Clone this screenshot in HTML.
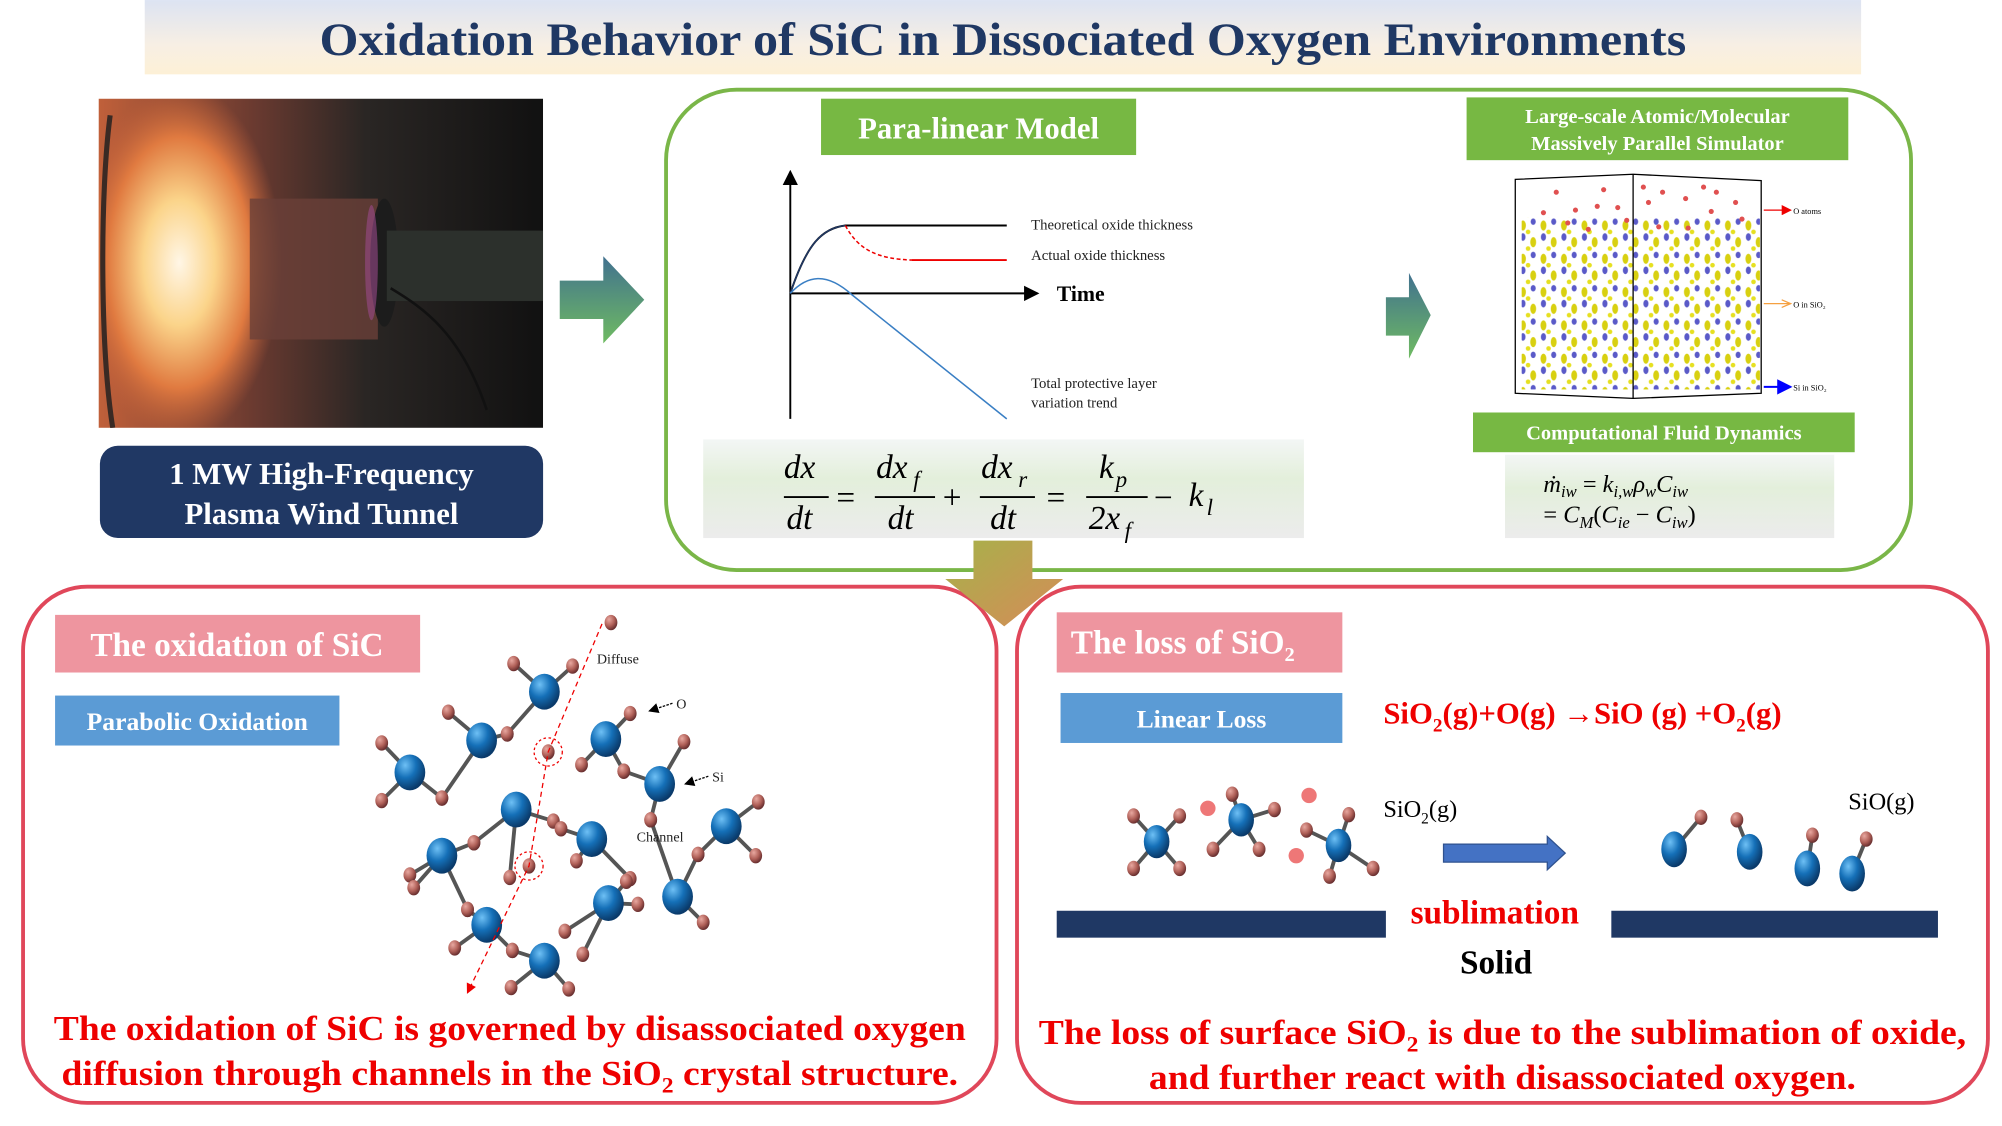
<!DOCTYPE html>
<html><head><meta charset="utf-8"><style>
html,body{margin:0;padding:0;background:#fff}
svg{display:block}
</style></head><body>
<svg id="s" width="2002" height="1126" viewBox="0 0 1563 879" xmlns="http://www.w3.org/2000/svg" font-family="'Liberation Serif',serif">
<defs>
<clipPath id="pc"><rect x="77" y="77" width="347" height="257"/></clipPath>
<linearGradient id="tg" x1="0" y1="0" x2="0" y2="1"><stop offset="0" stop-color="#dce3f2"/><stop offset="0.6" stop-color="#f7efe4"/><stop offset="1" stop-color="#fdf0d6"/></linearGradient>
<linearGradient id="ag" x1="0" y1="0" x2="0" y2="1"><stop offset="0" stop-color="#41718f"/><stop offset="1" stop-color="#6fbb62"/></linearGradient>
<linearGradient id="dg" x1="0" y1="0" x2="1" y2="1"><stop offset="0" stop-color="#a6b24a"/><stop offset="1" stop-color="#d68b58"/></linearGradient>
<linearGradient id="eg" x1="0" y1="0" x2="0" y2="1"><stop offset="0" stop-color="#f3f6f5"/><stop offset="0.4" stop-color="#e3efdb"/><stop offset="1" stop-color="#ececec"/></linearGradient>
<linearGradient id="pbg" x1="0" y1="0" x2="1" y2="0"><stop offset="0" stop-color="#c0603a"/><stop offset="0.35" stop-color="#6a3a30"/><stop offset="0.6" stop-color="#2a2624"/><stop offset="1" stop-color="#111"/></linearGradient>
<radialGradient id="pg" cx="0.5" cy="0.5" r="0.5"><stop offset="0" stop-color="#fff6e6"/><stop offset="0.35" stop-color="#fbd48a"/><stop offset="0.7" stop-color="#e07a40"/><stop offset="1" stop-color="#c0603a" stop-opacity="0"/></radialGradient>
<radialGradient id="bs" cx="0.35" cy="0.3" r="0.7"><stop offset="0" stop-color="#6ec0f5"/><stop offset="0.5" stop-color="#1570b8"/><stop offset="1" stop-color="#0a3a6a"/></radialGradient>
<radialGradient id="rs" cx="0.35" cy="0.3" r="0.7"><stop offset="0" stop-color="#e8a8a0"/><stop offset="0.6" stop-color="#b06058"/><stop offset="1" stop-color="#6a3030"/></radialGradient>
<pattern id="cr" x="1185" y="170" width="16" height="26" patternUnits="userSpaceOnUse">
<ellipse cx="4" cy="6" rx="2.3" ry="4" fill="#d8d010"/><ellipse cx="4" cy="15" rx="2" ry="3" fill="#5a5ac8"/><ellipse cx="12" cy="19" rx="2.3" ry="4" fill="#d8d010"/><ellipse cx="12" cy="3" rx="2" ry="2.5" fill="#5a5ac8"/><circle cx="8" cy="11" r="1.8" fill="#e6e020"/><circle cx="8" cy="24" r="1.8" fill="#e6e020"/>
</pattern>
<marker id="ah" markerWidth="8" markerHeight="8" refX="7" refY="4" orient="auto"><path d="M0,0 L8,4 L0,8z" fill="#000"/></marker>
<marker id="ahr" markerWidth="8" markerHeight="8" refX="7" refY="4" orient="auto"><path d="M0,0 L8,4 L0,8z" fill="#e00"/></marker>
<marker id="aho" markerWidth="8" markerHeight="8" refX="7" refY="4" orient="auto"><path d="M0,1 L7,4 L0,7" fill="none" stroke="#f5a040"/></marker>
<marker id="ahb" markerWidth="8" markerHeight="8" refX="7" refY="4" orient="auto"><path d="M0,0 L8,4 L0,8z" fill="#00f"/></marker>
</defs>

<rect x="113" y="0" width="1340" height="58" fill="url(#tg)"/>
<text x="783" y="43" text-anchor="middle" font-size="36" font-weight="bold" fill="#1f3864" textLength="1067" lengthAdjust="spacingAndGlyphs">Oxidation Behavior of SiC in Dissociated Oxygen Environments</text>

<g clip-path="url(#pc)">
<rect x="77" y="77" width="347" height="257" fill="url(#pbg)"/>
<ellipse cx="140" cy="205" rx="80" ry="140" fill="url(#pg)"/>
<path d="M86,90 C78,150 78,270 88,334" stroke="#3a2a24" stroke-width="4" fill="none"/>
<rect x="195" y="155" width="100" height="110" fill="#6a4038" opacity="0.8"/>
<ellipse cx="300" cy="205" rx="11" ry="50" fill="#1c1c1c"/>
<ellipse cx="290" cy="205" rx="5" ry="45" fill="#9a4a8a" opacity="0.6"/>
<rect x="302" y="180" width="122" height="55" fill="#2c302c"/>
<path d="M305,225 C330,240 360,260 380,320" stroke="#111" stroke-width="2" fill="none"/>
</g>

<rect x="78" y="348" width="346" height="72" rx="14" fill="#203864"/>
<text x="251" y="378" text-anchor="middle" font-size="24" font-weight="bold" fill="#fff">1 MW High-Frequency</text>
<text x="251" y="409" text-anchor="middle" font-size="24" font-weight="bold" fill="#fff">Plasma Wind Tunnel</text>

<path d="M437,219 L471,219 L471,200 L503,234 L471,268 L471,249 L437,249z" fill="url(#ag)"/>
<path d="M1082,232 L1100,232 L1100,213 L1117,246 L1100,280 L1100,262 L1082,262z" fill="url(#ag)"/>

<rect x="520" y="70" width="972" height="375" rx="55" fill="none" stroke="#7ab648" stroke-width="3"/>
<rect x="641" y="77" width="246" height="44" fill="#77b843"/>
<text x="764" y="108" text-anchor="middle" font-size="24" font-weight="bold" fill="#fff">Para-linear Model</text>

<line x1="617" y1="327" x2="617" y2="134" stroke="#000" stroke-width="1.5" marker-end="url(#ah)"/>
<line x1="617" y1="229" x2="810" y2="229" stroke="#000" stroke-width="1.5" marker-end="url(#ah)"/>
<path d="M617,229 C630,190 642,178 660,176 L786,176" stroke="#000" stroke-width="1.5" fill="none"/>
<path d="M617,229 C630,190 642,178 660,176" stroke="#203864" stroke-width="1.2" fill="none"/>
<path d="M660,176 C670,195 685,202 712,203" stroke="#e00" stroke-width="1.2" stroke-dasharray="3,2" fill="none"/>
<line x1="712" y1="203" x2="786" y2="203" stroke="#e00" stroke-width="1.5"/>
<path d="M617,229 C630,215 645,212 665,230 L786,327" stroke="#3a7fc4" stroke-width="1.2" fill="none"/>
<text x="805" y="179" font-size="11.5" fill="#222">Theoretical oxide thickness</text>
<text x="805" y="203" font-size="11.5" fill="#222">Actual oxide thickness</text>
<text x="825" y="235" font-size="17" font-weight="bold" fill="#000">Time</text>
<text x="805" y="303" font-size="11.5" fill="#222">Total protective layer</text>
<text x="805" y="318" font-size="11.5" fill="#222">variation trend</text>

<rect x="549" y="343" width="469" height="77" fill="url(#eg)"/>
<g font-size="26" font-style="italic" fill="#000">
<text x="612" y="373">dx</text><line x1="612" y1="388" x2="647" y2="388" stroke="#000" stroke-width="1.5"/><text x="614" y="413">dt</text>
<text x="653" y="397" font-style="normal">=</text>
<text x="684" y="373">dx</text><text x="713" y="380" font-size="18">f</text><line x1="683" y1="388" x2="730" y2="388" stroke="#000" stroke-width="1.5"/><text x="693" y="413">dt</text>
<text x="736" y="397" font-style="normal">+</text>
<text x="766" y="373">dx</text><text x="795" y="380" font-size="18">r</text><line x1="765" y1="388" x2="808" y2="388" stroke="#000" stroke-width="1.5"/><text x="773" y="413">dt</text>
<text x="817" y="397" font-style="normal">=</text>
<text x="858" y="373">k</text><text x="871" y="380" font-size="18">p</text><line x1="848" y1="388" x2="896" y2="388" stroke="#000" stroke-width="1.5"/><text x="850" y="413" >2x</text><text x="878" y="420" font-size="18">f</text>
<text x="901" y="397" font-style="normal">−</text>
<text x="928" y="395">k</text><text x="942" y="402" font-size="18">l</text>
</g>

<rect x="1145" y="76" width="298" height="49" fill="#77b843"/>
<text x="1294" y="96" text-anchor="middle" font-size="16" font-weight="bold" fill="#fff">Large-scale Atomic/Molecular</text>
<text x="1294" y="117" text-anchor="middle" font-size="16" font-weight="bold" fill="#fff">Massively Parallel Simulator</text>
<rect x="1188" y="170" width="186" height="134" fill="url(#cr)"/>
<path d="M1183,140 L1275,136 L1375,141 L1375,307 L1275,311 L1183,307z M1275,136 L1275,311" fill="none" stroke="#000" stroke-width="1"/>
<g fill="#e05050">
<circle cx="1215" cy="150" r="2"/><circle cx="1252" cy="148" r="2"/><circle cx="1230" cy="164" r="2"/><circle cx="1247" cy="161" r="2"/><circle cx="1263" cy="162" r="2"/><circle cx="1287" cy="158" r="2"/><circle cx="1298" cy="150" r="2"/><circle cx="1316" cy="155" r="2"/><circle cx="1340" cy="150" r="2"/><circle cx="1355" cy="158" r="2"/><circle cx="1224" cy="174" r="2"/><circle cx="1240" cy="179" r="2"/><circle cx="1270" cy="172" r="2"/><circle cx="1295" cy="177" r="2"/><circle cx="1318" cy="178" r="2"/><circle cx="1336" cy="165" r="2"/><circle cx="1360" cy="171" r="2"/><circle cx="1205" cy="166" r="2"/><circle cx="1283" cy="146" r="2"/><circle cx="1330" cy="146" r="2"/>
</g>
<line x1="1377" y1="164" x2="1398" y2="164" stroke="#e00" stroke-width="1" marker-end="url(#ahr)"/>
<text x="1400" y="167" font-size="6.5" fill="#000">O  atoms</text>
<line x1="1377" y1="237" x2="1398" y2="237" stroke="#f5a040" stroke-width="1" marker-end="url(#aho)"/>
<text x="1400" y="240" font-size="6.5" fill="#000">O in SiO₂</text>
<line x1="1377" y1="302" x2="1398" y2="302" stroke="#00f" stroke-width="1.5" marker-end="url(#ahb)"/>
<text x="1400" y="305" font-size="6.5" fill="#000">Si in SiO₂</text>

<rect x="1150" y="322" width="298" height="31" fill="#77b843"/>
<text x="1299" y="343" text-anchor="middle" font-size="16" font-weight="bold" fill="#fff">Computational Fluid Dynamics</text>
<rect x="1175" y="355" width="257" height="65" fill="url(#eg)"/>
<g font-size="19" font-style="italic" fill="#000">
<text x="1205" y="384">ṁ<tspan font-size="13" dy="4">iw</tspan><tspan font-style="normal" dy="-4"> = </tspan>k<tspan font-size="13" dy="4">i,w</tspan><tspan dy="-4">ρ</tspan><tspan font-size="13" dy="4">w</tspan><tspan dy="-4">C</tspan><tspan font-size="13" dy="4">iw</tspan></text>
<text x="1205" y="408"><tspan font-style="normal">= </tspan>C<tspan font-size="13" dy="4">M</tspan><tspan dy="-4" font-style="normal">(</tspan>C<tspan font-size="13" dy="4">ie</tspan><tspan dy="-4" font-style="normal"> − </tspan>C<tspan font-size="13" dy="4">iw</tspan><tspan dy="-4" font-style="normal">)</tspan></text>
</g>

<rect x="18" y="458" width="760" height="403" rx="50" fill="none" stroke="#e0475a" stroke-width="3"/>
<rect x="794" y="458" width="758" height="403" rx="50" fill="none" stroke="#e0475a" stroke-width="3"/>
<path d="M760,422 L806,422 L806,452 L830,452 L784,489 L738,452 L760,452z" fill="url(#dg)"/>

<rect x="43" y="480" width="285" height="45" fill="#ee959f"/>
<text x="185" y="512" text-anchor="middle" font-size="26" font-weight="bold" fill="#fff">The oxidation of SiC</text>
<rect x="43" y="543" width="222" height="39" fill="#5b9bd5"/>
<text x="154" y="570" text-anchor="middle" font-size="20" font-weight="bold" fill="#fff">Parabolic Oxidation</text>

<g id="mol"></g>
<text x="466" y="518" font-size="11" fill="#222">Diffuse</text>
<text x="528" y="553" font-size="11" fill="#222">O</text>
<text x="556" y="610" font-size="11" fill="#222">Si</text>
<text x="497" y="657" font-size="11" fill="#222">Channel</text>
<line x1="525" y1="549" x2="507" y2="555" stroke="#000" marker-end="url(#ah)" stroke-dasharray="2,1"/>
<line x1="553" y1="606" x2="535" y2="612" stroke="#000" marker-end="url(#ah)" stroke-dasharray="2,1"/>
<path d="M470,487 L428,587 L413,676 L365,775" stroke="#e00" stroke-width="1" stroke-dasharray="4,3" fill="none" marker-end="url(#ahr)"/>
<circle cx="428" cy="587" r="11" fill="none" stroke="#e00" stroke-dasharray="2,2"/>
<circle cx="413" cy="676" r="11" fill="none" stroke="#e00" stroke-dasharray="2,2"/>

<text x="398" y="812" text-anchor="middle" font-size="27" font-weight="bold" fill="#e00" textLength="712" lengthAdjust="spacingAndGlyphs">The oxidation of SiC is governed by disassociated oxygen</text>
<text x="398" y="847" text-anchor="middle" font-size="27" font-weight="bold" fill="#e00" textLength="700" lengthAdjust="spacingAndGlyphs">diffusion through channels in the SiO<tspan font-size="17" dy="6">2</tspan><tspan dy="-6"> crystal structure.</tspan></text>

<rect x="825" y="478" width="223" height="47" fill="#ee959f"/>
<text x="836" y="510" font-size="26" font-weight="bold" fill="#fff">The loss of SiO<tspan font-size="16" dy="6">2</tspan></text>
<rect x="828" y="541" width="220" height="39" fill="#5b9bd5"/>
<text x="938" y="568" text-anchor="middle" font-size="20" font-weight="bold" fill="#fff">Linear Loss</text>
<text x="1080" y="565" font-size="24" font-weight="bold" fill="#e00">SiO<tspan font-size="15" dy="6">2</tspan><tspan dy="-6">(g)+O(g) →SiO (g) +O</tspan><tspan font-size="15" dy="6">2</tspan><tspan dy="-6">(g)</tspan></text>

<text x="1080" y="638" font-size="19" fill="#000">SiO<tspan font-size="12" dy="5">2</tspan><tspan dy="-5">(g)</tspan></text>
<text x="1443" y="632" font-size="19" fill="#000">SiO(g)</text>
<path d="M1127,659 L1208,659 L1208,653 L1222,666 L1208,679 L1208,673 L1127,673z" fill="#4472c4" stroke="#2f528f"/>
<rect x="825" y="711" width="257" height="21" fill="#1f3864"/>
<rect x="1258" y="711" width="255" height="21" fill="#1f3864"/>
<text x="1167" y="721" text-anchor="middle" font-size="26" font-weight="bold" fill="#e00">sublimation</text>
<text x="1168" y="760" text-anchor="middle" font-size="26" font-weight="bold" fill="#000">Solid</text>

<text x="1173" y="815" text-anchor="middle" font-size="27" font-weight="bold" fill="#e00" textLength="724" lengthAdjust="spacingAndGlyphs">The loss of surface SiO<tspan font-size="17" dy="6">2</tspan><tspan dy="-6"> is due to the sublimation of oxide,</tspan></text>
<text x="1173" y="850" text-anchor="middle" font-size="27" font-weight="bold" fill="#e00" textLength="552" lengthAdjust="spacingAndGlyphs">and further react with disassociated oxygen.</text>
</svg>
<script>
var g=document.getElementById('mol'),NS='http://www.w3.org/2000/svg';
function el(t,a){var e=document.createElementNS(NS,t);for(var k in a)e.setAttribute(k,a[k]);g.appendChild(e);}
function mol(b,rs){rs.forEach(function(r){el('line',{x1:b[0],y1:b[1],x2:r[0],y2:r[1],stroke:'#555','stroke-width':3});});
rs.forEach(function(r){el('ellipse',{cx:r[0],cy:r[1],rx:5,ry:6,fill:'url(#rs)'});});
el('ellipse',{cx:b[0],cy:b[1],rx:b[2]||12,ry:b[3]||14,fill:'url(#bs)'});}
mol([425,540],[[401,518],[447,520],[396,573]]);
mol([376,578],[[350,556],[345,623],[396,573]]);
mol([473,577],[[492,557],[454,597],[487,602]]);
mol([320,603],[[298,580],[298,625],[345,623]]);
mol([515,612],[[534,579],[487,602],[508,640]]);
mol([403,632],[[432,641],[370,658],[398,685]]);
mol([462,655],[[438,647],[450,672],[492,686]]);
mol([345,668],[[320,683],[323,693],[370,658],[365,710]]);
mol([567,645],[[592,626],[590,668],[545,667]]);
mol([475,705],[[498,706],[489,688],[455,745],[441,727]]);
mol([529,700],[[549,720],[545,667],[508,640]]);
mol([380,722],[[355,740],[400,742],[365,710]]);
mol([425,750],[[399,771],[444,772],[400,742]]);
el('ellipse',{cx:477,cy:486,rx:5,ry:6,fill:'url(#rs)'});
el('ellipse',{cx:428,cy:587,rx:5,ry:6,fill:'url(#rs)'});
el('ellipse',{cx:413,cy:676,rx:5,ry:6,fill:'url(#rs)'});
mol([903,657,10,13],[[885,637],[921,637],[885,678],[921,678]]);
mol([969,640,10,13],[[962,620],[995,632],[947,663],[983,663]]);
mol([1045,660,10,13],[[1053,636],[1020,648],[1072,678],[1038,684]]);
[[943,631],[1022,621],[1012,668]].forEach(function(p){el('circle',{cx:p[0],cy:p[1],r:6,fill:'#ee7777'});});
mol([1307,663,10,14],[[1328,638]]);
mol([1366,665,10,14],[[1356,640]]);
mol([1411,678,10,14],[[1415,652]]);
mol([1446,682,10,14],[[1457,655]]);
</script>
</body></html>
